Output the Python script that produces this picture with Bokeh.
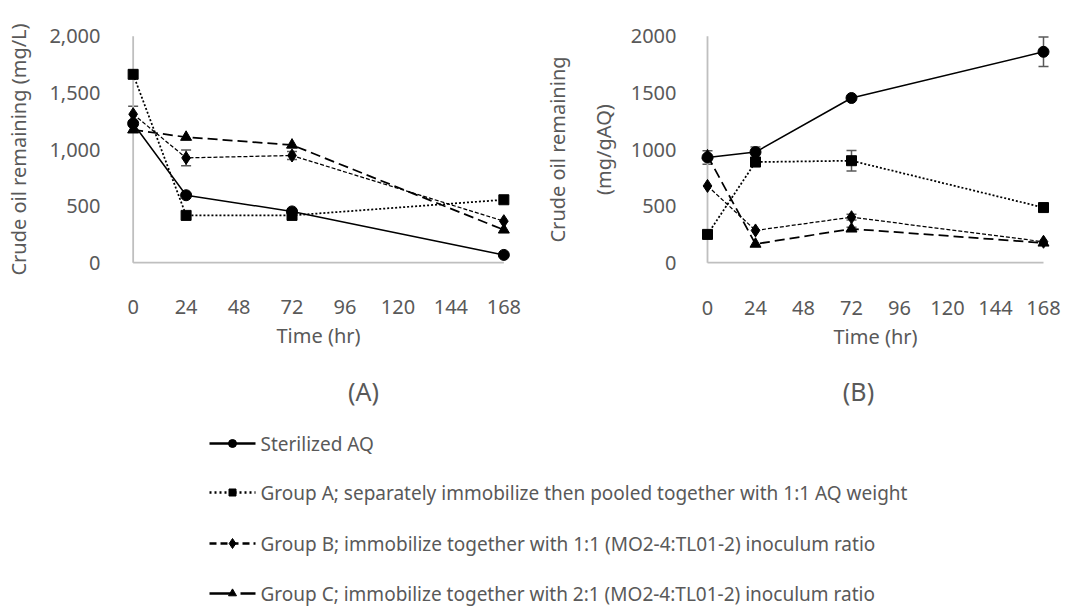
from bokeh.plotting import figure
from bokeh.models import (Range1d, FixedTicker, NumeralTickFormatter, LinearAxis,
                          Whisker, ColumnDataSource, TeeHead)
from bokeh.layouts import column, row
from bokeh.embed import file_html
from bokeh.resources import INLINE
from bokeh.core.properties import value

# ---------------- data ----------------
time_hr = [0, 24, 72, 168]
x_ticks = [0, 24, 48, 72, 96, 120, 144, 168]

# (A) crude oil remaining, mg/L
a_sterilized = [1230, 596, 453, 69]
a_group_a = [1664, 418, 418, 556]
a_group_b = [1312, 926, 947, 367]
a_group_c = [1174, 1109, 1040, 290]
a_err_sterilized = [0, 0, 0, 0]
a_err_group_a = [0, 0, 0, 0]
a_err_group_b = [70, 70, 35, 0]
a_err_group_c = [0, 0, 0, 0]
a_y_ticks = [0, 500, 1000, 1500, 2000]

# (B) crude oil remaining, mg/gAQ
b_sterilized = [930, 977, 1455, 1863]
b_group_a = [250, 889, 901, 487]
b_group_b = [678, 285, 402, 185]
b_group_c = [945, 165, 299, 175]
b_err_sterilized = [60, 45, 0, 130]
b_err_group_a = [0, 35, 90, 0]
b_err_group_b = [0, 0, 25, 0]
b_err_group_c = [0, 0, 15, 0]
b_y_ticks = [0, 500, 1000, 1500, 2000]

series_names = [
    "Sterilized AQ",
    "Group A; separately immobilize then pooled together with 1:1 AQ weight",
    "Group B; immobilize together with 1:1 (MO2-4:TL01-2) inoculum ratio",
    "Group C; immobilize together with 2:1 (MO2-4:TL01-2) inoculum ratio",
]
panel_labels = ["(A)", "(B)"]

# ---------------- styles ----------------
FONT = "Noto Sans"
GRAY = "#595959"
AXIS_GRAY = "#bfbfbf"
AX_FS = "20px"
styles = [
    dict(dash="solid", width=1.5, marker="circle", size=11, ldash="solid"),
    dict(dash="2 2", width=1.75, marker="square", size=10, ldash="2 3"),
    dict(dash="4 2", width=1.25, marker="diamond", size=13, ldash="7 4"),
    dict(dash="10 5", width=1.75, marker="triangle", size=11, ldash="24 7"),
]


def style_axes(p, y_ticks, y_label, x_standoff, y_standoff, y_label_standoff, fmt=None):
    xa = p.xaxis[0]
    xa.ticker = FixedTicker(ticks=x_ticks)
    ya = p.yaxis[0]
    ya.ticker = FixedTicker(ticks=y_ticks)
    if fmt is not None:
        ya.formatter = fmt
    for ax in (xa, ya):
        ax.axis_line_color = None
        ax.major_tick_line_color = None
        ax.minor_tick_line_color = None
        ax.major_tick_out = 0
        ax.major_tick_in = 0
        ax.major_label_text_font = FONT
        ax.major_label_text_font_size = AX_FS
        ax.major_label_text_color = GRAY
        ax.axis_label_text_font = FONT
        ax.axis_label_text_font_size = AX_FS
        ax.axis_label_text_color = GRAY
        ax.axis_label_text_font_style = "normal"
    xa.major_label_standoff = x_standoff
    xa.axis_label = "Time (hr)"
    xa.axis_label_standoff = 5
    ya.major_label_standoff = y_standoff
    ya.axis_label = y_label
    ya.axis_label_standoff = y_label_standoff
    p.xgrid.visible = False
    p.ygrid.visible = False
    p.outline_line_color = None
    # axis lines spanning data extent
    p.line([x_ticks[0], x_ticks[-1]], [y_ticks[0], y_ticks[0]], line_color=AXIS_GRAY, line_width=1.8)
    p.line([x_ticks[0], x_ticks[0]], [y_ticks[0], y_ticks[-1]], line_color=AXIS_GRAY, line_width=1.8)


def draw_series(p, ys, errs):
    for yv, ev, st in zip(ys, errs, styles):
        idx = [i for i, e in enumerate(ev) if e > 0]
        if idx:
            src = ColumnDataSource(dict(
                x=[time_hr[i] for i in idx],
                upper=[yv[i] + ev[i] for i in idx],
                lower=[yv[i] - ev[i] for i in idx]))
            w = Whisker(source=src, base="x", upper="upper", lower="lower",
                        line_color=GRAY, line_width=1.5,
                        upper_head=TeeHead(size=10, line_color=GRAY, line_width=1.5),
                        lower_head=TeeHead(size=10, line_color=GRAY, line_width=1.5))
            p.add_layout(w)
    for yv, st in zip(ys, styles):
        p.line(time_hr, yv, line_color="black", line_width=st["width"], line_dash=st["dash"])
    for yv, st in zip(ys, styles):
        p.scatter(time_hr, yv, marker=st["marker"], size=st["size"],
                  fill_color="black", line_color="black")


# ---------------- chart (A) ----------------
pA = figure(width=534, height=360, output_backend="svg", toolbar_location=None,
            x_range=Range1d(-8, 176), y_range=Range1d(-60, 2060),
            min_border_left=115, min_border_right=13, min_border_top=14, min_border_bottom=85)
style_axes(pA, a_y_ticks, "Crude oil remaining (mg/L)", 30, 15, 14,
           fmt=NumeralTickFormatter(format="0,0"))
draw_series(pA, [a_sterilized, a_group_a, a_group_b, a_group_c],
            [a_err_sterilized, a_err_group_a, a_err_group_b, a_err_group_c])

# ---------------- chart (B) ----------------
pB = figure(width=534, height=360, output_backend="svg", toolbar_location=None,
            x_range=Range1d(-8, 176), y_range=Range1d(-60, 2060),
            min_border_left=157, min_border_right=9, min_border_top=29, min_border_bottom=91)
style_axes(pB, b_y_ticks, "(mg/gAQ)", 31, 15, 11)
outer = LinearAxis(ticker=FixedTicker(ticks=[]), axis_line_color=None,
                   major_tick_line_color=None, minor_tick_line_color=None,
                   major_tick_out=0, major_tick_in=0,
                   major_label_text_font_size="0px",
                   axis_label="Crude oil remaining", axis_label_standoff=16,
                   axis_label_text_font=FONT, axis_label_text_font_size=AX_FS,
                   axis_label_text_color=GRAY, axis_label_text_font_style="normal")
pB.add_layout(outer, "left")
draw_series(pB, [b_sterilized, b_group_a, b_group_b, b_group_c],
            [b_err_sterilized, b_err_group_a, b_err_group_b, b_err_group_c])

# ---------------- panel labels + legend ----------------
pL = figure(width=1068, height=248, output_backend="svg", toolbar_location=None,
            x_range=Range1d(0, 1068), y_range=Range1d(608, 360),
            min_border=0, x_axis_location=None, y_axis_location=None)
pL.xgrid.visible = False
pL.ygrid.visible = False
pL.outline_line_color = None

pL.text(x=[363, 858], y=[390, 390], text=panel_labels, text_font=value(FONT),
        text_font_size="25px", text_color=GRAY, text_align="center", text_baseline="middle")

leg_y = [443, 492, 543, 593]
for yy, name, st in zip(leg_y, series_names, styles):
    pL.line([209, 255], [yy, yy], line_color="black", line_width=2.5,
            line_dash=st["ldash"])
    pL.scatter([232], [yy], marker=st["marker"], size=st["size"] - 3,
               fill_color="black", line_color="black")
    pL.text(x=[260], y=[yy], text=[name], text_font=value(FONT), text_font_size="19px",
            text_color=GRAY, text_align="left", text_baseline="middle")

layout = column(row(pA, pB), pL)
open("out.html", "w").write(file_html(layout, INLINE))
